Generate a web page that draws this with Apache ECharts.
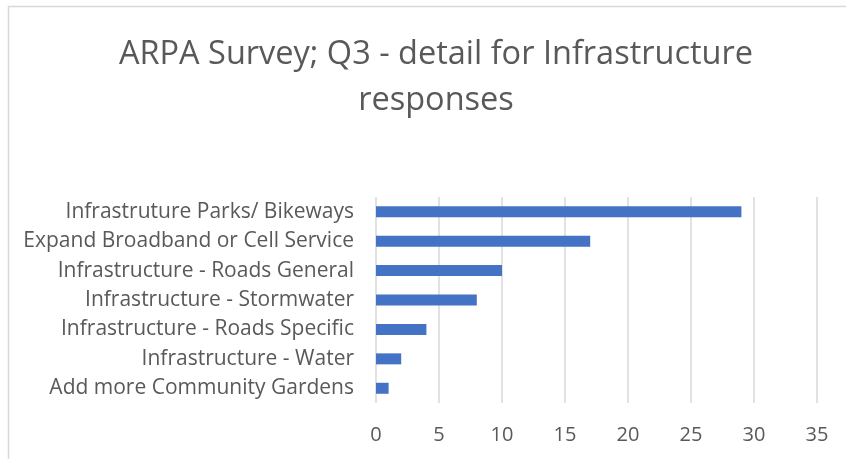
<!DOCTYPE html>
<html><head><meta charset="utf-8">
<script src="https://cdn.jsdelivr.net/npm/echarts@6/dist/echarts.min.js"></script>
<style>html,body{margin:0;padding:0;background:#fff}#c{width:846px;height:459px}</style>
</head><body><div id="c"></div>
<script>
const categories = ["Infrastruture Parks/ Bikeways","Expand Broadband or Cell Service","Infrastructure - Roads General","Infrastructure - Stormwater","Infrastructure - Roads Specific","Infrastructure - Water","Add more Community Gardens"];
const values = [29,17,10,8,4,2,1];
const xTicks = {min:0,max:35,interval:5};
const titleText = "ARPA Survey; Q3 - detail for Infrastructure\nresponses";
const FONT = "Open Sans";
const chart = echarts.init(document.getElementById('c'), null, {renderer:'canvas'});
chart.setOption({
  animation:false,
  backgroundColor:'#fff',
  graphic:[{type:'rect',shape:{x:8.5,y:6.5,width:860,height:480},style:{fill:'none',stroke:'#D9D9D9',lineWidth:1.5},silent:true}],
  title:{text:titleText,left:431,textAlign:'center',top:27,textStyle:{fontFamily:FONT,fontSize:32.5,fontWeight:'normal',color:'#595959',lineHeight:46}},
  grid:{left:376,right:29,top:197,bottom:56,containLabel:false},
  xAxis:{type:'value',min:xTicks.min,max:xTicks.max,interval:xTicks.interval,
    axisLine:{show:false},axisTick:{show:false},
    axisLabel:{fontFamily:FONT,fontSize:20,color:'#595959',margin:22},
    splitLine:{lineStyle:{color:'#D9D9D9',width:1.5}}},
  yAxis:{type:'category',data:categories,inverse:true,
    axisLine:{show:false},axisTick:{show:false},
    axisLabel:{fontFamily:FONT,fontSize:21,color:'#595959',margin:22}},
  series:[{type:'bar',data:values,barWidth:11,itemStyle:{color:'#4472C4'}}]
});
</script></body></html>
